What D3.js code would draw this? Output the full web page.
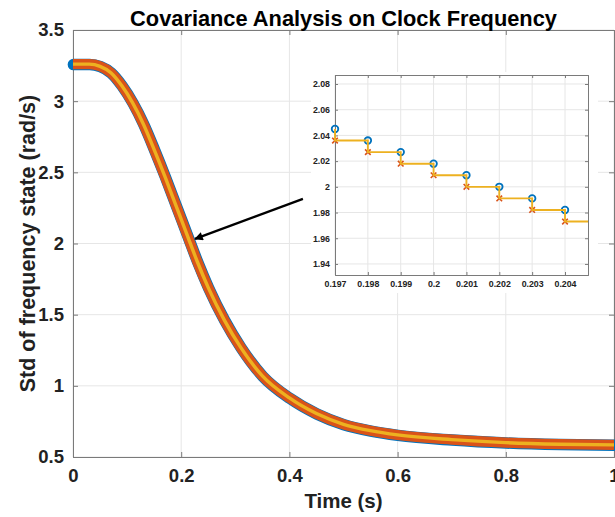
<!DOCTYPE html>
<html><head><meta charset="utf-8">
<script src="https://cdn.jsdelivr.net/npm/d3@7/dist/d3.min.js"></script>
<style>
html,body{margin:0;padding:0;background:#fff;}
svg{display:block;font-family:"Liberation Sans",Arial,Helvetica,sans-serif;}
</style></head>
<body><svg id="chart" width="615" height="517"></svg>
<script>
// ---- data ----
const mainTime = [0,0.03,0.05,0.07,0.09,0.11,0.13,0.15,0.17,0.19,0.21,0.23,0.25,0.28,0.31,0.35,0.40,0.45,0.50,0.55,0.60,0.70,0.80,0.90,1.00];
const mainStd  = [3.26,3.26,3.245,3.20,3.11,2.99,2.84,2.66,2.47,2.27,2.07,1.87,1.69,1.46,1.27,1.07,0.915,0.805,0.73,0.685,0.655,0.622,0.601,0.59,0.585];
const xTicks = [0,0.2,0.4,0.6,0.8,1];
const xTickLabels = ["0","0.2","0.4","0.6","0.8","1"];
const yTicks = [0.5,1,1.5,2,2.5,3,3.5];
const yTickLabels = ["0.5","1","1.5","2","2.5","3","3.5"];

const insetTime = [0.197,0.198,0.199,0.200,0.201,0.202,0.203,0.204];
const insetPrior = [2.045,2.036,2.027,2.018,2.009,2.000,1.991,1.982];   // blue circles
const insetPost  = [2.036,2.027,2.018,2.009,2.000,1.991,1.982,1.973];   // red crosses
const insetXTicks = [0.197,0.198,0.199,0.200,0.201,0.202,0.203,0.204];
const insetXTickLabels = ["0.197","0.198","0.199","0.2","0.201","0.202","0.203","0.204"];
const insetYTicks = [1.94,1.96,1.98,2.00,2.02,2.04,2.06,2.08];
const insetYTickLabels = ["1.94","1.96","1.98","2","2.02","2.04","2.06","2.08"];
const arrowFrom = [0.425, 2.313];
const arrowTo = [0.2255, 2.032];

const title = "Covariance Analysis on Clock Frequency";
const xLabel = "Time (s)";
const yLabel = "Std of frequency state (rad/s)";

// ---- layout ----
const svg = d3.select("#chart");
const M = {l:73, r:614, t:30, b:457};
const x = d3.scaleLinear().domain([0,1]).range([M.l, M.r]);
const y = d3.scaleLinear().domain([0.5,3.5]).range([M.b, M.t]);
const axisCol = "#7a7a7a", gridCol = "#e6e6e6", textCol = "#222";
const BLUE="#0072BD", RED="#D95319", YEL="#EDB120";

// grid
const g = svg.append("g");
g.selectAll(".vg").data(xTicks).join("line")
  .attr("x1",d=>x(d)).attr("x2",d=>x(d)).attr("y1",M.t).attr("y2",M.b)
  .attr("stroke",gridCol).attr("stroke-width",1);
g.selectAll(".hg").data(yTicks).join("line")
  .attr("y1",d=>y(d)).attr("y2",d=>y(d)).attr("x1",M.l).attr("x2",M.r)
  .attr("stroke",gridCol).attr("stroke-width",1);

// axes with inward ticks on all sides
const tk = 5;
const axB = d3.axisBottom(x).tickValues(xTicks).tickSize(-tk).tickFormat((d,i)=>xTickLabels[i]).tickPadding(12);
const axT = d3.axisTop(x).tickValues(xTicks).tickSize(-tk).tickFormat("");
const axL = d3.axisLeft(y).tickValues(yTicks).tickSize(-tk).tickFormat((d,i)=>yTickLabels[i]).tickPadding(9);
const axR = d3.axisRight(y).tickValues(yTicks).tickSize(-tk).tickFormat("");
function styleAxis(sel, fs){
  sel.select(".domain").attr("stroke",axisCol).attr("stroke-width",1);
  sel.selectAll(".tick line").attr("stroke",axisCol);
  sel.selectAll("text").attr("fill",textCol).attr("font-size",fs).attr("font-weight","bold");
}
styleAxis(svg.append("g").attr("transform",`translate(0,${M.b})`).call(axB),18.5);
styleAxis(svg.append("g").attr("transform",`translate(0,${M.t})`).call(axT),18.5);
styleAxis(svg.append("g").attr("transform",`translate(${M.l},0)`).call(axL),18.5);
styleAxis(svg.append("g").attr("transform",`translate(${M.r},0)`).call(axR),18.5);

// main band
const pts = mainTime.map((t,i)=>[t,mainStd[i]]);
const line = d3.line().x(d=>x(d[0])).y(d=>y(d[1])).curve(d3.curveMonotoneX);
svg.append("path").attr("d",line(pts)).attr("fill","none").attr("stroke",BLUE)
  .attr("stroke-width",11.5).attr("stroke-linecap","round").attr("transform","translate(0.4,0.4)");
svg.append("path").attr("d",line(pts)).attr("fill","none").attr("stroke",RED)
  .attr("stroke-width",10.2).attr("stroke-linecap","butt");
svg.append("path").attr("d",line(pts)).attr("fill","none").attr("stroke",YEL)
  .attr("stroke-width",3.4);

// labels
svg.append("text").attr("x",(M.l+M.r)/2).attr("y",26).attr("text-anchor","middle")
  .attr("font-size",21.8).attr("font-weight","bold").attr("fill","#000").text(title);
svg.append("text").attr("x",(M.l+M.r)/2).attr("y",508).attr("text-anchor","middle")
  .attr("font-size",20.5).attr("font-weight","bold").attr("fill",textCol).text(xLabel);
svg.append("text").attr("transform",`translate(35,${(M.t+M.b)/2}) rotate(-90)`).attr("text-anchor","middle")
  .attr("font-size",21.5).attr("font-weight","bold").attr("fill",textCol).text(yLabel);

// arrow
const defs = svg.append("defs");
defs.append("marker").attr("id","ah").attr("viewBox","0 0 10 10").attr("refX",9).attr("refY",5)
  .attr("markerWidth",4.4).attr("markerHeight",3.6).attr("markerUnits","strokeWidth").attr("orient","auto")
  .append("path").attr("d","M0,0 L10,5 L0,10 Z").attr("fill","#000");
svg.append("line").attr("x1",x(arrowFrom[0])).attr("y1",y(arrowFrom[1]))
  .attr("x2",x(arrowTo[0])).attr("y2",y(arrowTo[1]))
  .attr("stroke","#000").attr("stroke-width",2.4).attr("marker-end","url(#ah)");

// ---- inset ----
const I = {l:335, r:588, t:75, b:275};
svg.append("rect").attr("x",311).attr("y",72).attr("width",287).attr("height",221).attr("fill","#fff");
const ix = d3.scaleLinear().domain([0.197,0.2047]).range([I.l,I.r]);
const iy = d3.scaleLinear().domain([1.9314,2.087]).range([I.b,I.t]);
const ig = svg.append("g");
ig.selectAll(".ivg").data(insetXTicks).join("line")
  .attr("x1",d=>ix(d)).attr("x2",d=>ix(d)).attr("y1",I.t).attr("y2",I.b).attr("stroke",gridCol);
ig.selectAll(".ihg").data(insetYTicks).join("line")
  .attr("y1",d=>iy(d)).attr("y2",d=>iy(d)).attr("x1",I.l).attr("x2",I.r).attr("stroke",gridCol);
const itk=3;
styleAxis(svg.append("g").attr("transform",`translate(0,${I.b})`)
  .call(d3.axisBottom(ix).tickValues(insetXTicks).tickSize(-itk).tickPadding(6).tickFormat((d,i)=>insetXTickLabels[i])),8.8);
styleAxis(svg.append("g").attr("transform",`translate(0,${I.t})`)
  .call(d3.axisTop(ix).tickValues(insetXTicks).tickSize(-itk).tickFormat("")),8.8);
styleAxis(svg.append("g").attr("transform",`translate(${I.l},0)`)
  .call(d3.axisLeft(iy).tickValues(insetYTicks).tickSize(-itk).tickPadding(5).tickFormat((d,i)=>insetYTickLabels[i])),8.8);
styleAxis(svg.append("g").attr("transform",`translate(${I.r},0)`)
  .call(d3.axisRight(iy).tickValues(insetYTicks).tickSize(-itk).tickFormat("")),8.8);

// blue circles
svg.append("g").selectAll("circle").data(insetTime).join("circle")
  .attr("cx",d=>ix(d)).attr("cy",(d,i)=>iy(insetPrior[i])).attr("r",3.3)
  .attr("fill","none").attr("stroke",BLUE).attr("stroke-width",1.8);
// red crosses
const cr = svg.append("g");
insetTime.forEach((t,i)=>{
  const cx=ix(t), cy=iy(insetPost[i]), s=2.8;
  cr.append("path").attr("d",`M${cx-s},${cy-s}L${cx+s},${cy+s}M${cx-s},${cy+s}L${cx+s},${cy-s}`)
    .attr("stroke",RED).attr("stroke-width",1.6).attr("fill","none");
});
// yellow staircase
const stair = [];
insetTime.forEach((t,i)=>{
  stair.push([t,insetPrior[i]]);
  stair.push([t,insetPost[i]]);
  const tn = i<insetTime.length-1 ? insetTime[i+1] : 0.2047;
  stair.push([tn,insetPost[i]]);
});
svg.append("path").attr("d",d3.line().x(d=>ix(d[0])).y(d=>iy(d[1]))(stair))
  .attr("fill","none").attr("stroke",YEL).attr("stroke-width",1.9);
</script></body></html>
